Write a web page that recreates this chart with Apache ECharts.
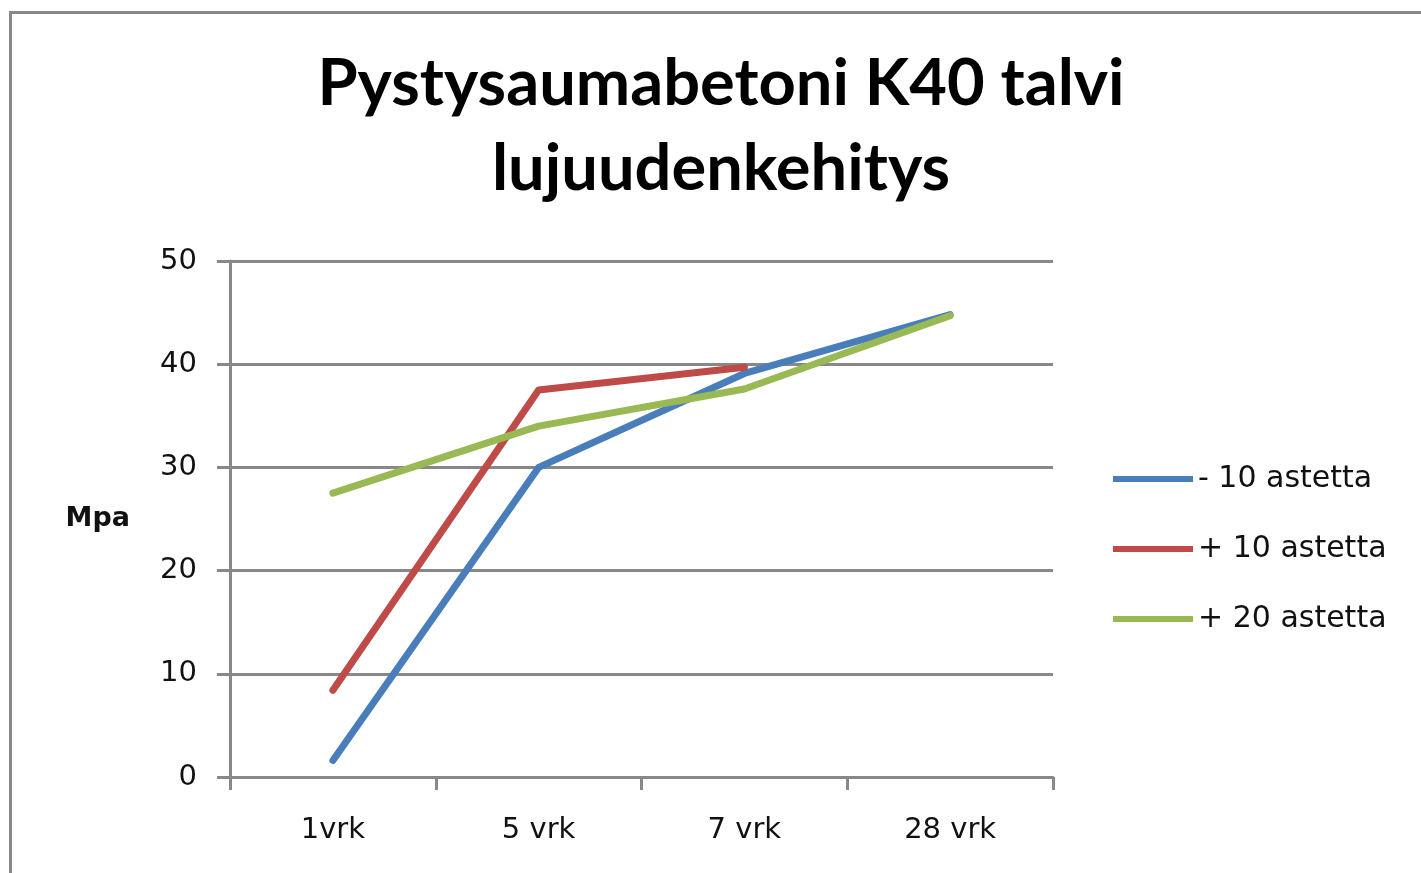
<!DOCTYPE html>
<html>
<head>
<meta charset="utf-8">
<script src="https://cdn.jsdelivr.net/npm/echarts@6/dist/echarts.min.js"></script>
<style>
html,body{margin:0;padding:0;background:#fff;}
#chart{width:1421px;height:873px;}
</style>
</head>
<body>
<div id="chart"></div>
<script>
const categories = ['1vrk', '5 vrk', '7 vrk', '28 vrk'];
const seriesNames = ['- 10 astetta', '+ 10 astetta', '+ 20 astetta'];
const minus10 = [1.6, 30.0, 39.1, 44.8];
const plus10 = [8.4, 37.5, 39.7, null];
const plus20 = [27.5, 34.0, 37.6, 44.7];
const yTicks = [0, 10, 20, 30, 40, 50];
const titleText = 'Pystysaumabetoni K40 talvi\nlujuudenkehitys';
const yName = 'Mpa';

const colors = ['#4A7EBB', '#BE4B48', '#98B954'];
const chart = echarts.init(document.getElementById('chart'));
const mkSeries = (name, data, i) => ({
  name, type: 'line', data, symbol: 'none', smooth: false,
  lineStyle: { width: 7, color: colors[i], cap: 'round', join: 'round' },
  itemStyle: { color: colors[i] }
});
chart.setOption({
  animation: false,
  backgroundColor: '#fff',
  graphic: [{
    type: 'rect', left: 8, top: 10,
    shape: { width: 1440, height: 900 },
    style: { fill: 'none', stroke: '#888', lineWidth: 3 }
  }],
  title: {
    text: titleText,
    left: 716, top: 37, textAlign: 'center',
    textStyle: { fontFamily: 'Lato', fontWeight: 'bold', fontSize: 65, lineHeight: 85, color: '#000' }
  },
  grid: { left: 230, right: 368, top: 261, bottom: 96, containLabel: false },
  legend: {
    orient: 'vertical', left: 1113, top: 464, padding: 0,
    icon: 'rect', itemWidth: 80, itemHeight: 6, itemGap: 40,
    data: seriesNames,
    textStyle: { fontFamily: 'DejaVu Sans', fontSize: 30, lineHeight: 30, color: '#111' }
  },
  xAxis: {
    type: 'category', data: categories, boundaryGap: true,
    axisLine: { lineStyle: { color: '#888', width: 3 } },
    axisTick: { show: true, length: 13, lineStyle: { color: '#888', width: 3 } },
    axisLabel: { fontFamily: 'DejaVu Sans', fontSize: 29, color: '#111', margin: 39 }
  },
  yAxis: {
    type: 'value', min: 0, max: 50, interval: 10,
    name: yName, nameLocation: 'middle', nameRotate: 0, nameGap: 100,
    nameTextStyle: { fontFamily: 'DejaVu Sans', fontWeight: 'bold', fontSize: 27, color: '#111' },
    axisLine: { show: true, lineStyle: { color: '#888', width: 3 } },
    axisTick: { show: true, length: 13, lineStyle: { color: '#888', width: 3 } },
    splitLine: { lineStyle: { color: '#888', width: 3 } },
    axisLabel: {
      fontFamily: 'DejaVu Sans', fontSize: 29, color: '#111', margin: 33,
      formatter: v => yTicks.includes(v) ? String(v) : ''
    }
  },
  series: [mkSeries(seriesNames[0], minus10, 0), mkSeries(seriesNames[1], plus10, 1), mkSeries(seriesNames[2], plus20, 2)]
});
</script>
</body>
</html>
